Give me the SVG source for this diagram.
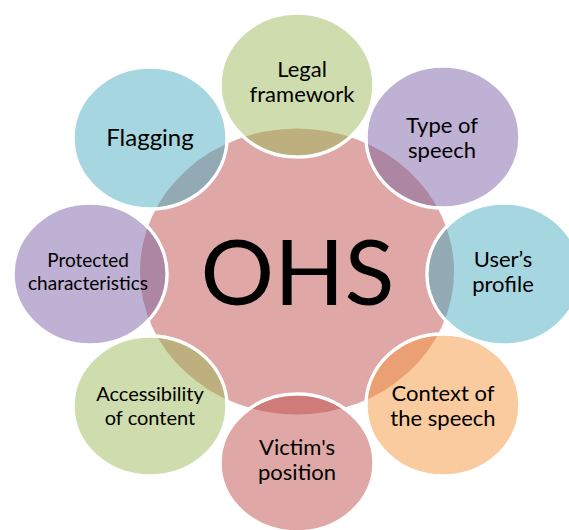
<svg xmlns="http://www.w3.org/2000/svg" width="569" height="530" viewBox="0 0 569 530">
<style>
.node{stroke:#ffffff;stroke-width:3.5}
.ov{stroke:none}
.lbl{font-family:Lato,"Liberation Sans",sans-serif;font-size:22px;fill:#000;text-anchor:middle}
.green{fill:#CFDDAE}.greenO{fill:#BDB07E}
.blue{fill:#A6D6E0}.blueO{fill:#93A9B3}
.purple{fill:#BFB1D3}.purpleO{fill:#AD87A2}
.orange{fill:#F9CB9F}.orangeO{fill:#EBA074}
.pink{fill:#DFA8A7}.pinkO{fill:#CF7B79}
</style>
<defs>
<clipPath id="core"><ellipse cx="297" cy="271.5" rx="157" ry="143"/></clipPath>
</defs>
<rect width="569" height="530" fill="#ffffff"/>
<g id="center">
<ellipse cx="297" cy="271.5" rx="157" ry="143" fill="#DFA8A7"/>
</g>
<g id="legal">
<ellipse class="node green" cx="297" cy="85" rx="77" ry="72"/>
<ellipse class="ov greenO" cx="297" cy="85" rx="75.3" ry="70.3" clip-path="url(#core)"/>
<text class="lbl" x="302" y="77">Legal</text>
<text class="lbl" x="302" y="102">framework</text>
</g>
<g id="type">
<ellipse class="node purple" cx="443" cy="137" rx="77" ry="71"/>
<ellipse class="ov purpleO" cx="443" cy="137" rx="75.3" ry="69.3" clip-path="url(#core)"/>
<text class="lbl" x="442" y="133">Type of</text>
<text class="lbl" x="442" y="158">speech</text>
</g>
<g id="user">
<ellipse class="node blue" cx="504" cy="274" rx="77" ry="71"/>
<ellipse class="ov blueO" cx="504" cy="274" rx="75.3" ry="69.3" clip-path="url(#core)"/>
<text class="lbl" x="503" y="267">User’s</text>
<text class="lbl" x="503" y="292">profile</text>
</g>
<g id="context">
<ellipse class="node orange" cx="443" cy="405" rx="77" ry="71"/>
<ellipse class="ov orangeO" cx="443" cy="405" rx="75.3" ry="69.3" clip-path="url(#core)"/>
<text class="lbl" x="443" y="401">Context of</text>
<text class="lbl" x="443" y="426">the speech</text>
</g>
<g id="victim">
<ellipse class="node pink" cx="297" cy="463" rx="77" ry="69"/>
<ellipse class="ov pinkO" cx="297" cy="463" rx="75.3" ry="67.3" clip-path="url(#core)"/>
<text class="lbl" x="297" y="455">Victim's</text>
<text class="lbl" x="297" y="480">position</text>
</g>
<g id="accessibility">
<ellipse class="node green" cx="150" cy="406" rx="77" ry="70"/>
<ellipse class="ov greenO" cx="150" cy="406" rx="75.3" ry="68.3" clip-path="url(#core)"/>
<text class="lbl" x="150" y="401" style="font-size:20px">Accessibility</text>
<text class="lbl" x="150" y="425" style="font-size:20px">of content</text>
</g>
<g id="protected">
<ellipse class="node purple" cx="90" cy="274" rx="77" ry="71"/>
<ellipse class="ov purpleO" cx="90" cy="274" rx="75.3" ry="69.3" clip-path="url(#core)"/>
<text class="lbl" x="88" y="267" style="font-size:19px">Protected</text>
<text class="lbl" x="88" y="290" style="font-size:19px">characteristics</text>
</g>
<g id="flagging">
<ellipse class="node blue" cx="150" cy="138" rx="77" ry="71"/>
<ellipse class="ov blueO" cx="150" cy="138" rx="75.3" ry="69.3" clip-path="url(#core)"/>
<text class="lbl" x="150" y="146" style="font-size:24px">Flagging</text>
</g>
<g id="ohs">
<text class="lbl" x="297.5" y="305" style="font-size:92px">OHS</text>
</g>
<g id="connectors"/>
</svg>
